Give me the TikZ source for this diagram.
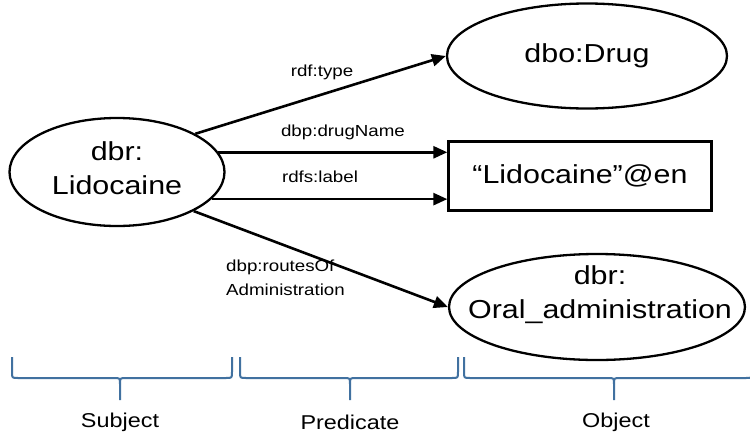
\documentclass[tikz,border=0pt]{standalone}
\usepackage{fontspec}
\setmainfont[FakeStretch=1.17]{Liberation Sans}
\usetikzlibrary{shapes.geometric,arrows.meta}
\definecolor{bracecol}{RGB}{65,113,160}
\tikzset{
  ent/.style={ellipse,draw,line width=2.3pt,inner sep=0pt,align=center,font=\fontsize{26}{33}\selectfont},
  lit/.style={rectangle,draw,line width=2.3pt,inner sep=0pt,align=center,font=\fontsize{26}{33}\selectfont},
  ntext/.style={inner sep=0pt,align=center,font=\fontsize{26}{34}\selectfont},
  edge/.style={line width=2.6pt,-{Triangle[length=14pt,width=12pt]}},
  elabel/.style={font=\fontsize{16}{24}\selectfont,inner sep=0pt,align=left},
  brace/.style={bracecol,line width=2pt},
  blabel/.style={font=\fontsize{20}{24}\selectfont,inner sep=0pt}
}
\newcommand{\mybrace}[3]{%
  \draw[brace] (#1,357) -- (#1,372) .. controls (#1,378) .. (#1+6,378) -- (#2-6,378) .. controls (#2,378) .. (#2,384) -- (#2,400);
  \draw[brace] (#2,384) .. controls (#2,378) .. (#2+6,378) -- (#3-6,378) .. controls (#3,378) .. (#3,372) -- (#3,357);
}
\begin{document}
\begin{tikzpicture}[x=1pt,y=-1pt]
\useasboundingbox (0,0) rectangle (750,437);
\node[ent,minimum width=215pt,minimum height=108pt] (lid) at (117,172) {};
\node[ntext] (lidtext) at (117,168) {dbr:\\Lidocaine};
\node[ent,minimum width=280pt,minimum height=105pt] (drug) at (587,56) {dbo:Drug};
\node[lit,minimum width=263pt,minimum height=69pt] (lit) at (580,176) {“Lidocaine”@en};
\node[ent,minimum width=296pt,minimum height=106pt] (oral) at (597,307) {};
\node[ntext] (oraltext) at (600,295) {dbr:\\Oral\_administration};

\draw[edge] (lid.26) -- (drug.west);
\draw[edge] (lid.11) -- (lid.11 -| lit.west);
\draw[edge] (lid.-16) -- (lid.-16 -| lit.west);
\draw[edge] (lid.-27) -- (oral.west);

\node[elabel] (l1) at (322,72) {rdf:type};
\node[elabel] (l2) at (343,132) {dbp:drugName};
\node[elabel] (l3) at (320,177) {rdfs:label};
\node[elabel,anchor=west] (l4) at (226,278) {dbp:routesOf\\Administration};

\mybrace{12}{120}{232}
\mybrace{240}{350}{458}
\mybrace{464}{614}{752}

\node[blabel] (s) at (120,422) {Subject};
\node[blabel] (p) at (350,422) {Predicate};
\node[blabel] (o) at (616,422) {Object};
\end{tikzpicture}
\end{document}
